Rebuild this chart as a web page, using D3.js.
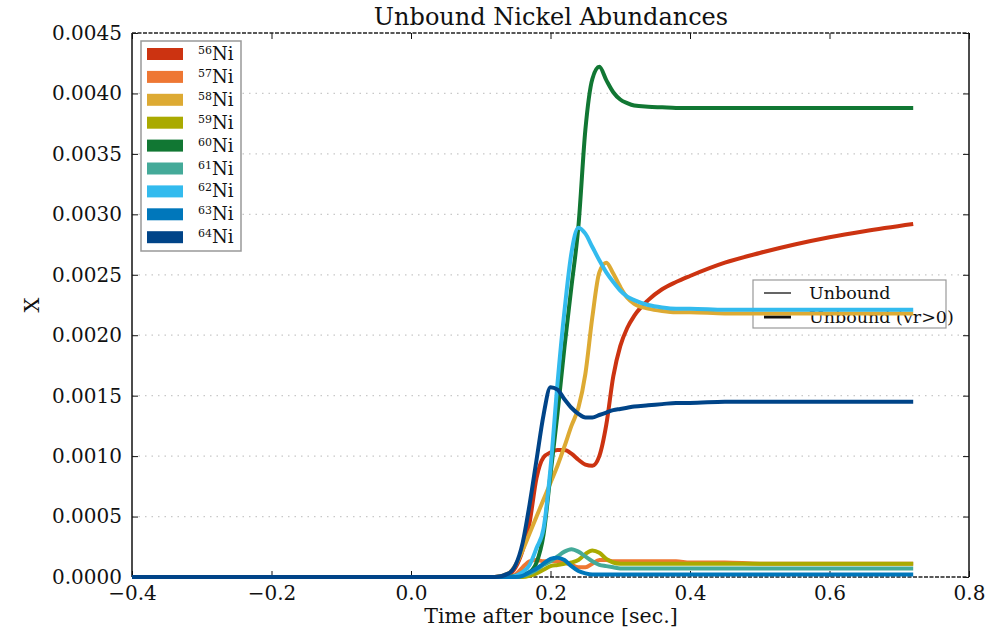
<!DOCTYPE html>
<html>
<head>
<meta charset="utf-8">
<script src="https://cdn.jsdelivr.net/npm/d3@7/dist/d3.min.js"></script>
<style>
  html, body { margin: 0; padding: 0; background: #fff; }
  svg { display: block; }
  text { font-family: "DejaVu Serif", serif; fill: #111; }
</style>
</head>
<body>
<svg id="chart" width="991" height="627"></svg>
<script>
// Sample times (seconds after bounce)
const times = [-0.40, 0.12, 0.14, 0.15, 0.16, 0.17, 0.18, 0.19, 0.20, 0.21, 0.22, 0.23, 0.24, 0.25, 0.26, 0.27, 0.28, 0.29, 0.30, 0.31, 0.32, 0.34, 0.36, 0.38, 0.40, 0.45, 0.50, 0.55, 0.60, 0.65, 0.72];

// Unbound mass fractions for each nickel isotope at the sample times
const ni56 = [0, 0, 0.00002, 0.00008, 0.00022, 0.00045, 0.00082, 0.00099, 0.00103, 0.00105, 0.00105, 0.00102, 0.00097, 0.00093, 0.00092, 0.00100, 0.00126, 0.00166, 0.00191, 0.00206, 0.00216, 0.00229, 0.00238, 0.00244, 0.00249, 0.00260, 0.00268, 0.00275, 0.00281, 0.00286, 0.00292];
const ni57 = [0, 0, 0, 0.00002, 0.00008, 0.00013, 0.00014, 0.00013, 0.00013, 0.00013, 0.00012, 0.00010, 0.00008, 0.00008, 0.00011, 0.00014, 0.00014, 0.00013, 0.00013, 0.00013, 0.00013, 0.00013, 0.00013, 0.00013, 0.00012, 0.00012, 0.00011, 0.00011, 0.00011, 0.00011, 0.00011];
const ni58 = [0, 0, 0.00003, 0.00010, 0.00022, 0.00036, 0.00050, 0.00064, 0.00078, 0.00092, 0.00108, 0.00125, 0.00140, 0.00168, 0.00215, 0.00252, 0.00260, 0.00251, 0.00240, 0.00231, 0.00226, 0.00222, 0.00220, 0.00219, 0.00219, 0.00218, 0.00218, 0.00218, 0.00218, 0.00218, 0.00218];
const ni59 = [0, 0, 0, 0, 0, 0.00001, 0.00003, 0.00006, 0.00009, 0.00010, 0.00011, 0.00012, 0.00014, 0.00019, 0.00022, 0.00020, 0.00015, 0.00012, 0.00011, 0.00011, 0.00011, 0.00011, 0.00011, 0.00011, 0.00011, 0.00011, 0.00011, 0.00011, 0.00011, 0.00011, 0.00011];
const ni60 = [0, 0, 0, 0.00001, 0.00002, 0.00004, 0.00012, 0.00035, 0.00085, 0.00135, 0.00190, 0.00240, 0.00290, 0.00370, 0.00412, 0.00422, 0.00411, 0.00401, 0.00395, 0.00392, 0.00390, 0.00389, 0.003885, 0.00388, 0.00388, 0.00388, 0.00388, 0.00388, 0.00388, 0.00388, 0.00388];
const ni61 = [0, 0, 0, 0, 0.00001, 0.00003, 0.00006, 0.00010, 0.00013, 0.00017, 0.00021, 0.00023, 0.00021, 0.00017, 0.00013, 0.00010, 0.00009, 0.00008, 0.00007, 0.00007, 0.00007, 0.00007, 0.00007, 0.00007, 0.00007, 0.00007, 0.00007, 0.00007, 0.00007, 0.00007, 0.00007];
const ni62 = [0, 0, 0, 0.00001, 0.00004, 0.00010, 0.00024, 0.00040, 0.00090, 0.00160, 0.00220, 0.00268, 0.00289, 0.00284, 0.00273, 0.00262, 0.00252, 0.00244, 0.00237, 0.00232, 0.00229, 0.00225, 0.00223, 0.00222, 0.00222, 0.00221, 0.00221, 0.00221, 0.00221, 0.00221, 0.00221];
const ni63 = [0, 0, 0, 0, 0.00001, 0.00004, 0.00007, 0.00011, 0.00015, 0.00016, 0.00014, 0.00009, 0.00005, 0.00003, 0.00002, 0.00002, 0.00002, 0.00002, 0.00002, 0.00002, 0.00002, 0.00002, 0.00002, 0.00002, 0.00002, 0.00002, 0.00002, 0.00002, 0.00002, 0.00002, 0.00002];
const ni64 = [0, 0, 0.00003, 0.00010, 0.00028, 0.00060, 0.00097, 0.00134, 0.00157, 0.00155, 0.00147, 0.00140, 0.00135, 0.00132, 0.00132, 0.00134, 0.00136, 0.00138, 0.00139, 0.00140, 0.00141, 0.00142, 0.00143, 0.00144, 0.00144, 0.00145, 0.00145, 0.00145, 0.00145, 0.00145, 0.00145];

const massNumbers = ["56", "57", "58", "59", "60", "61", "62", "63", "64"];
const seriesValues = [ni56, ni57, ni58, ni59, ni60, ni61, ni62, ni63, ni64];
const colors = ["#cc3311", "#ee7733", "#ddaa33", "#aaaa00", "#117733", "#44aa99", "#33bbee", "#0077bb", "#004488"];

const xTicks = [-0.4, -0.2, 0.0, 0.2, 0.4, 0.6, 0.8];
const yTicks = [0, 0.0005, 0.0010, 0.0015, 0.0020, 0.0025, 0.0030, 0.0035, 0.0040, 0.0045];
const lineLegend = ["Unbound", "Unbound (vr>0)"];

const svg = d3.select("#chart");
const plot = { left: 132, right: 969, top: 33, bottom: 577 };

const x = d3.scaleLinear().domain([-0.4, 0.8]).range([plot.left, plot.right]);
const y = d3.scaleLinear().domain([0, 0.0045]).range([plot.bottom, plot.top]);

// Horizontal dotted grid
svg.append("g").selectAll("line").data(yTicks.slice(1, -1)).join("line")
  .attr("x1", plot.left).attr("x2", plot.right)
  .attr("y1", d => y(d)).attr("y2", d => y(d))
  .attr("stroke", "#c8c8c8").attr("stroke-width", 1.2)
  .attr("stroke-dasharray", "1.5,5");

// Axes (ticks pointing inward)
const fmtX = d => d3.format(".1f")(d).replace("-", "\u2212");
const fmtY = d => d3.format(".4f")(d);

const xBottom = svg.append("g").attr("transform", `translate(0,${plot.bottom})`)
  .call(d3.axisBottom(x).tickValues(xTicks).tickFormat(fmtX).tickSizeInner(-6).tickSizeOuter(0).tickPadding(9));
const xTop = svg.append("g").attr("transform", `translate(0,${plot.top})`)
  .call(d3.axisTop(x).tickValues(xTicks).tickFormat("").tickSizeInner(-6).tickSizeOuter(0));
const yLeft = svg.append("g").attr("transform", `translate(${plot.left},0)`)
  .call(d3.axisLeft(y).tickValues(yTicks).tickFormat(fmtY).tickSizeInner(-6).tickSizeOuter(0).tickPadding(10));
const yRight = svg.append("g").attr("transform", `translate(${plot.right},0)`)
  .call(d3.axisRight(y).tickValues(yTicks).tickFormat("").tickSizeInner(-6).tickSizeOuter(0));

[xBottom, xTop, yLeft, yRight].forEach(g => {
  g.select(".domain").remove();
  g.selectAll(".tick line").attr("stroke", "#111").attr("stroke-width", 1);
  g.selectAll("text").style("font-family", "DejaVu Serif, serif").style("font-size", "20px").attr("fill", "#111");
});

// Frame
svg.append("line").attr("x1", plot.left).attr("x2", plot.left).attr("y1", plot.top).attr("y2", plot.bottom)
  .attr("stroke", "#111").attr("stroke-width", 1.5);
svg.append("line").attr("x1", plot.right).attr("x2", plot.right).attr("y1", plot.top).attr("y2", plot.bottom)
  .attr("stroke", "#111").attr("stroke-width", 1.5);
[plot.top, plot.bottom].forEach(yy => {
  svg.append("line").attr("x1", plot.left).attr("x2", plot.right).attr("y1", yy).attr("y2", yy)
    .attr("stroke", "#222").attr("stroke-width", 1.5).attr("stroke-dasharray", "4,1.5");
});

// Line-style legend (drawn beneath the curves)
const lg2 = svg.append("g").attr("transform", "translate(753,280)");
lg2.append("rect").attr("width", 193).attr("height", 48).attr("fill", "#fff")
  .attr("stroke", "#999").attr("stroke-width", 1.2);
lineLegend.forEach((label, i) => {
  const yy = 13 + i * 24;
  lg2.append("line").attr("x1", 11).attr("x2", 38).attr("y1", yy).attr("y2", yy)
    .attr("stroke", "#111").attr("stroke-width", i === 0 ? 1.3 : 3);
  lg2.append("text").attr("x", 56).attr("y", yy + 6).style("font-size", "17.5px").text(label);
});

// Abundance curves
const line = d3.line()
  .x((d, i) => x(times[i]))
  .y(d => y(d))
  .curve(d3.curveMonotoneX);

svg.append("g").selectAll("path").data(seriesValues).join("path")
  .attr("d", d => line(d))
  .attr("fill", "none")
  .attr("stroke", (d, i) => colors[i])
  .attr("stroke-width", 4)
  .attr("stroke-linejoin", "round")
  .attr("stroke-linecap", "butt");

// Isotope legend
const lg1 = svg.append("g").attr("transform", "translate(141,41)");
lg1.append("rect").attr("width", 100).attr("height", 210).attr("fill", "#fff")
  .attr("stroke", "#999").attr("stroke-width", 1.5);
massNumbers.forEach((m, i) => {
  const yy = 13 + i * 22.9;
  lg1.append("rect").attr("x", 6).attr("y", yy - 6).attr("width", 36).attr("height", 12)
    .attr("fill", colors[i]);
  const t = lg1.append("text").attr("x", 57).attr("y", yy + 6).style("font-size", "18px");
  t.append("tspan").attr("dy", -6).style("font-size", "11px").text(m);
  t.append("tspan").attr("dy", 6).text("Ni");
});

// Title and axis labels
svg.append("text").attr("x", 551).attr("y", 25).attr("text-anchor", "middle")
  .style("font-size", "24px").text("Unbound Nickel Abundances");
svg.append("text").attr("x", 551).attr("y", 623).attr("text-anchor", "middle")
  .style("font-size", "20.5px").text("Time after bounce [sec.]");
svg.append("text").attr("transform", "translate(39,305) rotate(-90)").attr("text-anchor", "middle")
  .style("font-size", "21px").text("X");
</script>
</body>
</html>
